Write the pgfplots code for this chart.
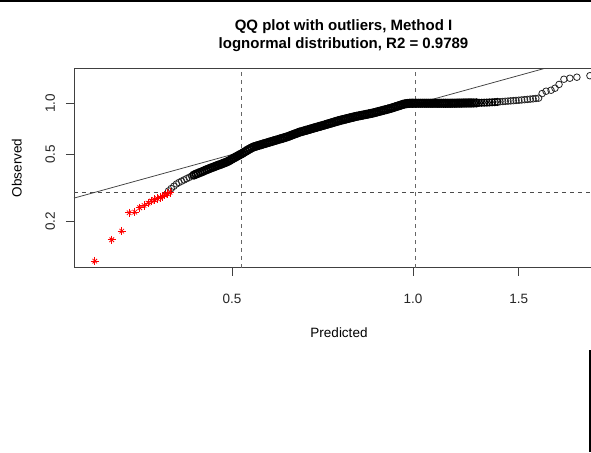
\documentclass[border=0pt]{standalone}
\usepackage{pgfplots}
\pgfplotsset{compat=1.18}
\usepackage{fontspec}
\setmainfont{Liberation Sans}
\begin{document}
\begin{tikzpicture}[x=1pt,y=1pt]
\useasboundingbox (0,0) rectangle (591,452);
\clip (0,0) rectangle (591,452);
\fill[white] (0,0) rectangle (591,452);
\begin{axis}[
  at={(74pt,184.2pt)}, anchor=south west,
  scale only axis, width=530pt, height=199.3pt,
  xmode=log, ymode=log,
  xmin=0.2728, xmax=2.0788, ymin=0.1063, ymax=1.6055,
  xtick={0.5,1,1.5}, xticklabels={0.5,1.0,1.5},
  ytick={0.2,0.5,1}, yticklabels={0.2,0.5,1.0},
  xminorticks=false, yminorticks=false,
  xtick pos=bottom, ytick pos=left,
  tick align=outside, major tick length=8pt,
  axis line style={black!75, line width=0.8pt},
  tick style={black!75, line width=0.8pt},
  ticklabel style={font=\fontsize{13.5}{16}\selectfont, text=black!85},
  xticklabel style={anchor=base, yshift=-27.9pt},
  yticklabel style={xshift=-11pt, rotate=90, anchor=base},
  clip=true,
]
% dashed reference lines
\addplot[black!60, line width=0.8pt, dash pattern=on 4pt off 4pt] coordinates {(0.5184,0.1063) (0.5184,1.6055)};
\addplot[black!60, line width=0.8pt, dash pattern=on 4pt off 4pt] coordinates {(1.0077,0.1063) (1.0077,1.6055)};
\addplot[black!70, line width=0.8pt, dash pattern=on 4pt off 4pt] coordinates {(0.2728,0.2957) (2.0788,0.2957)};
% fitted line
\addplot[black!75, line width=0.75pt] coordinates {(0.2728,0.2747) (1.6374,1.590) (2.0,1.934)};
% observations: sparse lower tail
\addplot[only marks, mark=o, mark size=3.3pt, mark options={line width=0.8pt, black!85}] table {
x y
0.392 0.303
0.396 0.313
0.400 0.323
0.404 0.333
0.408 0.340
0.412 0.346
0.416 0.352
0.420 0.358
0.424 0.364
0.428 0.371
};
% observations: dense body
\addplot[only marks, mark=o, mark size=3.8pt, mark options={line width=1.6pt, black}] table {
x y
0.432 0.376
0.4355 0.381
0.439 0.385
0.4425 0.390
0.446 0.394
0.4495 0.399
0.453 0.404
0.4565 0.408
0.460 0.413
0.4635 0.417
0.467 0.421
0.4705 0.426
0.474 0.430
0.4775 0.434
0.481 0.438
0.4845 0.443
0.488 0.447
0.4915 0.452
0.495 0.458
0.4985 0.465
0.502 0.472
0.5055 0.478
0.509 0.485
0.5125 0.491
0.516 0.498
0.5195 0.504
0.523 0.512
0.527 0.520
0.531 0.529
0.535 0.537
0.539 0.545
0.543 0.552
0.547 0.556
0.551 0.561
0.555 0.565
0.559 0.569
0.563 0.574
0.567 0.578
0.571 0.582
0.575 0.587
0.579 0.591
0.583 0.595
0.587 0.600
0.591 0.604
0.5955 0.609
0.600 0.614
0.604 0.618
0.608 0.622
0.612 0.627
0.616 0.631
0.6205 0.637
0.625 0.643
0.6295 0.650
0.634 0.656
0.6385 0.662
0.643 0.668
0.6475 0.675
0.653 0.680
0.658 0.686
0.663 0.691
0.668 0.696
0.673 0.702
0.678 0.707
0.683 0.713
0.688 0.718
0.693 0.723
0.698 0.729
0.703 0.734
0.708 0.739
0.714 0.746
0.719 0.752
0.724 0.757
0.729 0.763
0.734 0.768
0.739 0.774
0.744 0.780
0.749 0.785
0.754 0.791
0.7595 0.796
0.765 0.801
0.770 0.805
0.775 0.810
0.780 0.814
0.785 0.819
0.790 0.823
0.795 0.828
0.800 0.832
0.805 0.837
0.811 0.841
0.8165 0.845
0.822 0.849
0.8275 0.853
0.833 0.857
0.8385 0.861
0.844 0.865
0.8495 0.869
0.855 0.873
0.8605 0.878
0.866 0.883
0.872 0.889
0.878 0.895
0.884 0.900
0.890 0.906
0.896 0.912
0.902 0.917
0.908 0.923
0.914 0.929
0.920 0.935
0.926 0.942
0.932 0.949
0.938 0.956
0.944 0.963
0.950 0.970
0.956 0.977
0.962 0.985
0.968 0.990
0.974 0.994
0.980 0.997
0.986 0.999
0.992 1.000
0.998 1.000
1.004 1.000
1.012 1.000
1.020 1.000
1.028 1.000
1.036 1.000
1.044 1.000
1.052 1.000
1.060 1.000
1.068 1.000
1.076 1.000
1.084 1.000
1.092 1.000
1.100 1.000
1.108 1.000
1.116 1.000
1.124 1.000
1.132 1.000
1.140 1.000
1.148 1.000
1.156 1.000
1.164 1.001
1.172 1.001
1.180 1.001
1.188 1.002
1.196 1.002
1.204 1.002
1.212 1.003
1.220 1.003
1.228 1.003
1.236 1.004
1.244 1.004
1.252 1.004
1.262 1.004
1.275 1.005
};
% observations: thinning upper band
\addplot[only marks, mark=o, mark size=3.5pt, mark options={line width=1.1pt, black}] table {
x y
1.288 1.006
1.301 1.007
1.314 1.008
1.327 1.009
1.340 1.011
1.354 1.013
1.368 1.015
1.382 1.018
};
% observations: sparse upper tail
\addplot[only marks, mark=o, mark size=3.3pt, mark options={line width=0.8pt, black!85}] table {
x y
1.396 1.021
1.410 1.024
1.424 1.027
1.439 1.030
1.454 1.033
1.469 1.036
1.484 1.039
1.500 1.042
1.516 1.046
1.533 1.050
1.550 1.054
1.567 1.058
1.584 1.062
1.601 1.067
1.618 1.072
1.640 1.141
1.665 1.178
1.697 1.194
1.723 1.227
1.750 1.292
1.783 1.387
1.824 1.406
1.874 1.426
1.970 1.455
};
% outliers
\addplot[only marks, red, mark=+, mark size=4.2pt, mark options={line width=0.8pt}] table {
x y
0.2954 0.1163
0.3153 0.1557
0.3276 0.1752
0.3370 0.2251
0.3443 0.2270
0.3510 0.2410
0.3568 0.2487
0.3623 0.2566
0.3669 0.2637
0.3713 0.2688
0.3754 0.2725
0.3794 0.2774
0.3827 0.2812
0.3862 0.2862
0.3901 0.2917
0.3942 0.2970
};
\addplot[only marks, red, mark=x, mark size=3.2pt, mark options={line width=0.8pt}] table {
x y
0.2954 0.1163
0.3153 0.1557
0.3276 0.1752
0.3370 0.2251
0.3443 0.2270
0.3510 0.2410
0.3568 0.2487
0.3623 0.2566
0.3669 0.2637
0.3713 0.2688
0.3754 0.2725
0.3794 0.2774
0.3827 0.2812
0.3862 0.2862
0.3901 0.2917
0.3942 0.2970
};
\end{axis}
% titles and labels
\node[anchor=base, font=\bfseries\fontsize{15}{18}\selectfont] at (343.5,421.7) {QQ plot with outliers, Method I};
\node[anchor=base, font=\bfseries\fontsize{15}{18}\selectfont] at (343.5,403.3) {lognormal distribution, R2 = 0.9789};
\node[anchor=base, font=\fontsize{13.5}{16}\selectfont] at (339,114.7) {Predicted};
\node[anchor=base, rotate=90, font=\fontsize{13.5}{16}\selectfont] at (21.7,284) {Observed};
% frame artefacts
\fill[black] (0,450) rectangle (591,452);
\fill[black] (588.7,0) rectangle (591,102);
\end{tikzpicture}
\end{document}
